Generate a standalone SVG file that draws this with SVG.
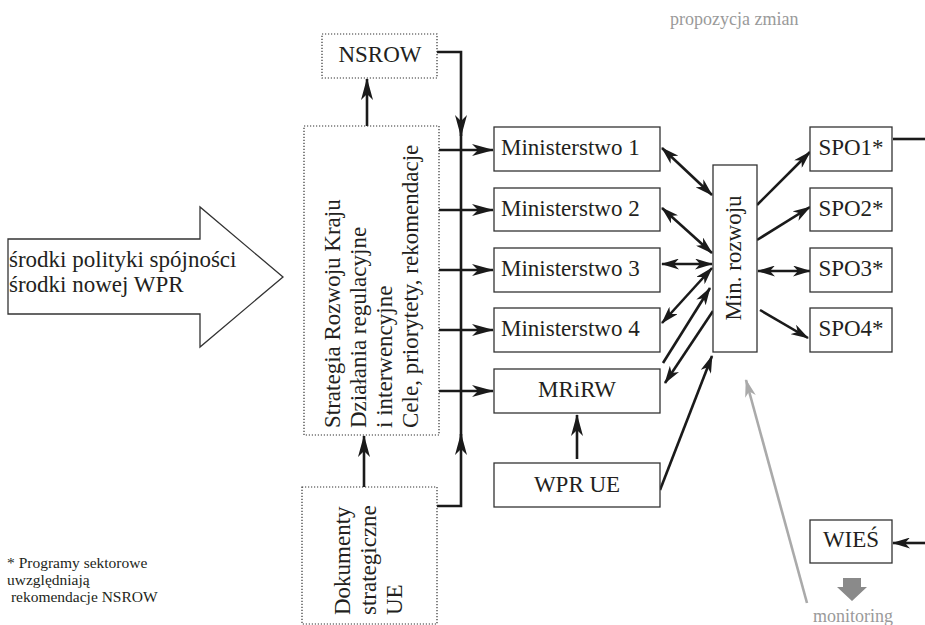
<svg xmlns="http://www.w3.org/2000/svg" width="925" height="625" viewBox="0 0 925 625" font-family="'Liberation Serif', 'DejaVu Serif', serif">
<style>
text{font-family:'Liberation Serif','DejaVu Serif',serif;fill:#231f20}
.t{font-size:23px}
.s{font-size:15.5px}
.g{font-size:18px;fill:#9a9a9a}
.box{fill:#fff;stroke:#333;stroke-width:1.3}
.dot{fill:#fff;stroke:#333;stroke-width:1.2;stroke-dasharray:1.2 1.8}
.c{fill:none;stroke:#1a1a1a;stroke-width:2.6}
.big{marker-end:url(#ah)}
.sm{marker-end:url(#as)}
.dbl{marker-start:url(#as);marker-end:url(#as)}
.gr{fill:none;stroke:#aaa;stroke-width:2.6;marker-end:url(#ag)}
</style>
<defs>
<marker id="ah" viewBox="0 0 22 12" markerWidth="22" markerHeight="12" refX="21" refY="6" orient="auto-start-reverse" markerUnits="userSpaceOnUse"><path d="M0,0 L22,6 L0,12 L6,6 z" fill="#1a1a1a"/></marker>
<marker id="as" viewBox="0 0 18 11" markerWidth="18" markerHeight="11" refX="17" refY="5.5" orient="auto-start-reverse" markerUnits="userSpaceOnUse"><path d="M0,0 L18,5.5 L0,11 L5,5.5 z" fill="#1a1a1a"/></marker>
<marker id="ag" viewBox="0 0 18 11" markerWidth="18" markerHeight="11" refX="17" refY="5.5" orient="auto" markerUnits="userSpaceOnUse"><path d="M0,0 L18,5.5 L0,11 L5,5.5 z" fill="#aaa"/></marker>
</defs>

<text class="g" x="670" y="25">propozycja zmian</text>

<g id="input-arrow">
<polygon points="8,239 200,239 200,207 283,277 200,347 200,314 8,314" fill="#fff" stroke="#333" stroke-width="1.3"/>
<text class="t" x="9" y="267">środki polityki spójności</text>
<text class="t" x="9" y="292">środki nowej WPR</text>
</g>

<g id="connectors">
<path class="c big" d="M367,126 V79"/>
<path class="c big" d="M364,487 V436"/>
<path class="c big" d="M437,52 H461 V136"/>
<path class="c" d="M461,130 V440"/>
<path class="c big" d="M437,506 H461 V434"/>
<path class="c big" d="M439,150 H493"/>
<path class="c big" d="M439,210 H493"/>
<path class="c big" d="M439,270 H493"/>
<path class="c big" d="M439,330 H493"/>
<path class="c big" d="M439,391 H493"/>
<path class="c big" d="M577,459 V415"/>
<path class="c dbl" d="M662,148 L712,195"/>
<path class="c dbl" d="M662,208 L712,253"/>
<path class="c dbl" d="M662,264 L712,264"/>
<path class="c dbl" d="M712,268 L662,323"/>
<path class="c sm" d="M663,363 L710,288"/>
<path class="c sm" d="M713,311 L665,383"/>
<path class="c sm" d="M660,490 L712,356"/>
<path class="c sm" d="M757,205 L810,152"/>
<path class="c sm" d="M757,240 L810,207"/>
<path class="c dbl" d="M758,271 L810,271"/>
<path class="c sm" d="M760,310 L808,338"/>
<path class="c" d="M893,139 H925"/>
<path class="c sm" d="M925,543 H893"/>
<path class="gr" d="M807,603 L746,380"/>
</g>

<g id="nsrow">
<rect class="dot" x="322" y="34" width="115" height="44"/>
<text class="t" x="380" y="62" text-anchor="middle">NSROW</text>
</g>

<g id="strategia">
<rect class="dot" x="304" y="126" width="135" height="309"/>
<text class="t" transform="translate(340,428) rotate(-90)"><tspan x="0" y="0">Strategia Rozwoju Kraju</tspan><tspan x="0" dy="26">Działania regulacyjne</tspan><tspan x="0" dy="26">i interwencyjne</tspan><tspan x="0" dy="26">Cele, priorytety, rekomendacje</tspan></text>
</g>

<g id="dokumenty">
<rect class="dot" x="302" y="487" width="135" height="137"/>
<text class="t" transform="translate(350,615) rotate(-90)"><tspan x="0" y="0">Dokumenty</tspan><tspan x="0" dy="26">strategiczne</tspan><tspan x="0" dy="26">UE</tspan></text>
</g>

<g id="ministerstwo1"><rect class="box" x="494" y="127" width="166" height="44"/><text class="t" x="501" y="155">Ministerstwo 1</text></g>
<g id="ministerstwo2"><rect class="box" x="494" y="188" width="166" height="43"/><text class="t" x="501" y="216">Ministerstwo 2</text></g>
<g id="ministerstwo3"><rect class="box" x="494" y="248" width="166" height="44"/><text class="t" x="501" y="276">Ministerstwo 3</text></g>
<g id="ministerstwo4"><rect class="box" x="494" y="308" width="166" height="44"/><text class="t" x="501" y="336">Ministerstwo 4</text></g>
<g id="mrirw"><rect class="box" x="494" y="369" width="166" height="44"/><text class="t" x="577" y="397" text-anchor="middle">MRiRW</text></g>
<g id="wpr-ue"><rect class="box" x="494" y="463" width="166" height="44"/><text class="t" x="577" y="492" text-anchor="middle">WPR UE</text></g>

<g id="min-rozwoju">
<rect class="box" x="713" y="165" width="44" height="187"/>
<text class="t" transform="translate(741,258) rotate(-90)" text-anchor="middle">Min. rozwoju</text>
</g>

<g id="spo1"><rect class="box" x="810" y="127" width="82" height="44"/><text class="t" x="851" y="155" text-anchor="middle">SPO1*</text></g>
<g id="spo2"><rect class="box" x="810" y="188" width="82" height="43"/><text class="t" x="851" y="216" text-anchor="middle">SPO2*</text></g>
<g id="spo3"><rect class="box" x="810" y="248" width="82" height="44"/><text class="t" x="851" y="276" text-anchor="middle">SPO3*</text></g>
<g id="spo4"><rect class="box" x="810" y="308" width="82" height="44"/><text class="t" x="851" y="336" text-anchor="middle">SPO4*</text></g>

<g id="wies">
<rect class="box" x="810" y="520" width="82" height="43"/>
<text class="t" x="851" y="547" text-anchor="middle">WIEŚ</text>
<polygon points="843,578 861,578 861,587 867,587 852,601 837,587 843,587" fill="#8a8a8a"/>
<text class="g" x="853" y="622" text-anchor="middle">monitoring</text>
</g>

<g id="footnote">
<text class="s" x="7" y="568">* Programy sektorowe</text>
<text class="s" x="7" y="585">uwzględniają</text>
<text class="s" x="7" y="602" xml:space="preserve"> rekomendacje NSROW</text>
</g>
</svg>
